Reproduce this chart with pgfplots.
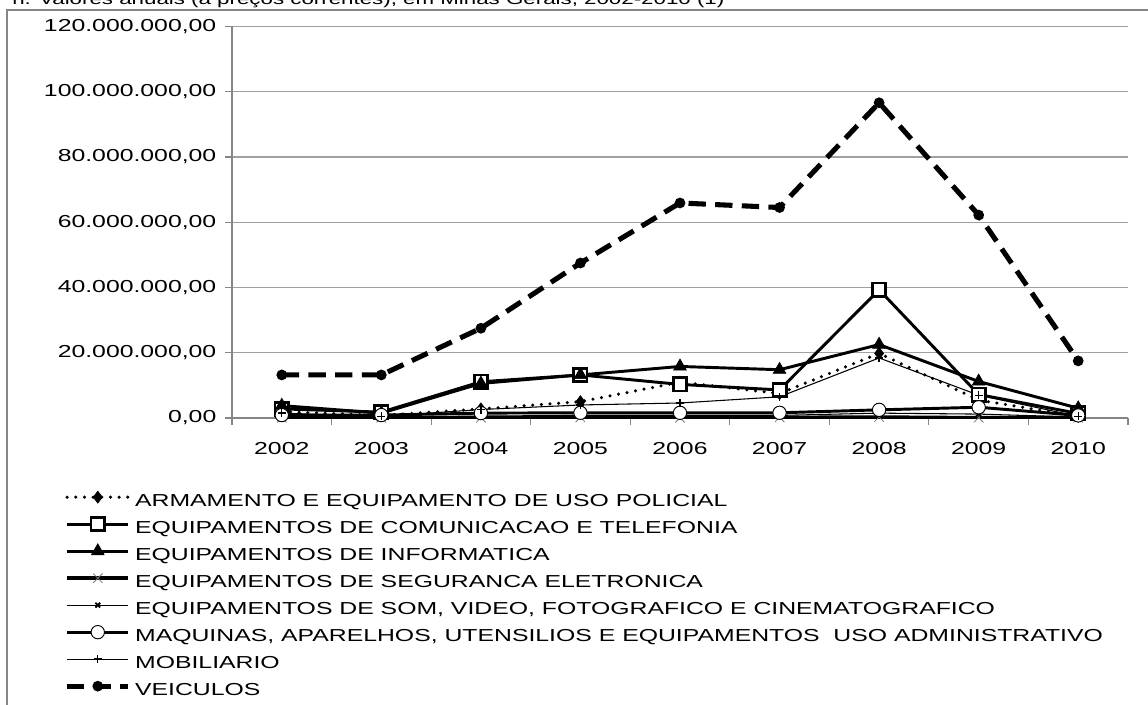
\documentclass[border=0pt]{standalone}
\usepackage{fontspec}
\setmainfont{Liberation Sans}[FakeStretch=1.43]
\usepackage{pgfplots}
\pgfplotsset{compat=1.18}
\definecolor{axgray}{RGB}{134,134,134}
\definecolor{grdgray}{RGB}{160,160,160}
\definecolor{xgray}{RGB}{120,120,120}
\begin{document}
\begin{tikzpicture}
\begin{axis}[
  at={(174pt,-313.5pt)}, anchor=south west,
  scale only axis, width=672pt, height=293.7pt,
  xmin=-0.5, xmax=8.5, ymin=0, ymax=120,
  axis x line*=bottom, axis y line*=left,
  axis line style={axgray, line width=0.9pt},
  xtick={0,1,2,3,4,5,6,7,8},
  xticklabels={2002,2003,2004,2005,2006,2007,2008,2009,2010},
  minor xtick={-0.5,0.5,1.5,2.5,3.5,4.5,5.5,6.5,7.5,8.5},
  major x tick style={draw=none},
  minor tick length=5.25pt, major tick length=5.25pt,
  tick align=outside,
  tick style={axgray, line width=0.9pt},
  ytick={0,20,40,60,80,100,120},
  yticklabels={{0,00},{20.000.000,00},{40.000.000,00},{60.000.000,00},{80.000.000,00},{100.000.000,00},{120.000.000,00}},
  ymajorgrids, grid style={grdgray, line width=0.9pt},
  tick label style={font=\fontsize{13}{15}\selectfont, black},
  x tick label style={yshift=-9.5pt},
  y tick label style={xshift=-3pt},
  legend cell align=left,
  legend style={at={(axis description cs:-0.184,-0.181)}, anchor=north west,
    draw=none, fill=none, inner sep=0pt, outer sep=0pt,
    row sep=4.75pt, column sep=5pt,
    font=\fontsize{13}{15}\selectfont,
    nodes={inner sep=0pt, text height=9.5pt, text depth=2.5pt}},
  legend image code/.code={\draw[overlay,mark repeat=2,mark phase=2,#1] plot coordinates {(0pt,3.3pt) (23pt,3.3pt) (46pt,3.3pt)};
    \pgfpathrectangle{\pgfpoint{0pt}{-2.5pt}}{\pgfpoint{46pt}{12pt}}\pgfusepath{use as bounding box}},
]
% ARMAMENTO
\addplot[black, line width=2.6pt, line cap=round, dash pattern=on 0pt off 6.5pt,
  mark=diamond*, mark size=4.5pt, mark options={solid, fill=black, line width=0.5pt}]
  coordinates {(0,2.0) (1,0.8) (2,2.8) (3,5.0) (4,11.0) (5,7.5) (6,19.8) (7,5.5) (8,0.5)};
\addlegendentry{ARMAMENTO E EQUIPAMENTO DE USO POLICIAL}
% COMUNICACAO
\addplot[black, line width=2.2pt, mark=square*, mark size=5pt,
  mark options={solid, fill=white, line width=2pt}]
  coordinates {(0,2.8) (1,1.8) (2,11.1) (3,13.2) (4,10.3) (5,8.6) (6,39.3) (7,7.2) (8,1.4)};
\addlegendentry{EQUIPAMENTOS DE COMUNICACAO E TELEFONIA}
% INFORMATICA
\addplot[black, line width=2.2pt, mark=triangle*, mark size=5.5pt,
  mark options={solid, fill=black, line width=0.5pt}]
  coordinates {(0,3.8) (1,1.5) (2,10.6) (3,13.2) (4,15.8) (5,14.8) (6,22.5) (7,11.2) (8,3.0)};
\addlegendentry{EQUIPAMENTOS DE INFORMATICA}
% SEGURANCA
\addplot[black, line width=2.6pt, mark=x, mark size=5pt,
  mark options={solid, xgray, line width=0.6pt}]
  coordinates {(0,0.1) (1,0.1) (2,0.1) (3,0.2) (4,0.1) (5,0.2) (6,0.3) (7,0.1) (8,0.1)};
\addlegendentry{EQUIPAMENTOS DE SEGURANCA ELETRONICA}
% SOM
\addplot[black, line width=0.8pt, mark=x, mark size=2.5pt,
  mark options={solid, line width=1.4pt}]
  coordinates {(0,0.5) (1,0.3) (2,0.6) (3,0.8) (4,0.8) (5,0.8) (6,1.5) (7,1.2) (8,0.3)};
\addlegendentry{EQUIPAMENTOS DE SOM, VIDEO, FOTOGRAFICO E CINEMATOGRAFICO}
% MAQUINAS
\addplot[black, line width=2.2pt, mark=*, mark size=5pt,
  mark options={solid, fill=white, line width=0.7pt}]
  coordinates {(0,0.9) (1,0.9) (2,1.5) (3,1.6) (4,1.6) (5,1.6) (6,2.5) (7,3.3) (8,0.8)};
\addlegendentry{MAQUINAS, APARELHOS, UTENSILIOS E EQUIPAMENTOS\ \ USO ADMINISTRATIVO}
% MOBILIARIO
\addplot[black, line width=0.8pt, mark=+, mark size=3pt,
  mark options={solid, line width=1pt}]
  coordinates {(0,1.5) (1,0.5) (2,2.6) (3,4.0) (4,4.6) (5,6.5) (6,18.4) (7,7.0) (8,0.5)};
\addlegendentry{MOBILIARIO}
% VEICULOS
\addplot[black, line width=3.8pt, dash pattern=on 13pt off 7pt,
  mark=*, mark size=2pt, mark options={solid, fill=black}]
  coordinates {(0,13.2) (1,13.2) (2,27.5) (3,47.5) (4,65.9) (5,64.5) (6,96.6) (7,62.2) (8,17.5)};
\addlegendentry{VEICULOS}
\end{axis}
\node[anchor=base west, inner sep=0pt, font=\fontsize{11.7}{15}\selectfont] at (9pt,-3.6pt)
  {n. Valores anuais (a preços correntes), em Minas Gerais, 2002-2010 (1)};
\draw[axgray, line width=1pt] (5.25pt,-540pt) -- (5.25pt,-7.5pt) -- (870pt,-7.5pt);
\pgfresetboundingbox
\path[use as bounding box] (0pt,0pt) rectangle (861pt,-528pt);
\end{tikzpicture}
\end{document}
